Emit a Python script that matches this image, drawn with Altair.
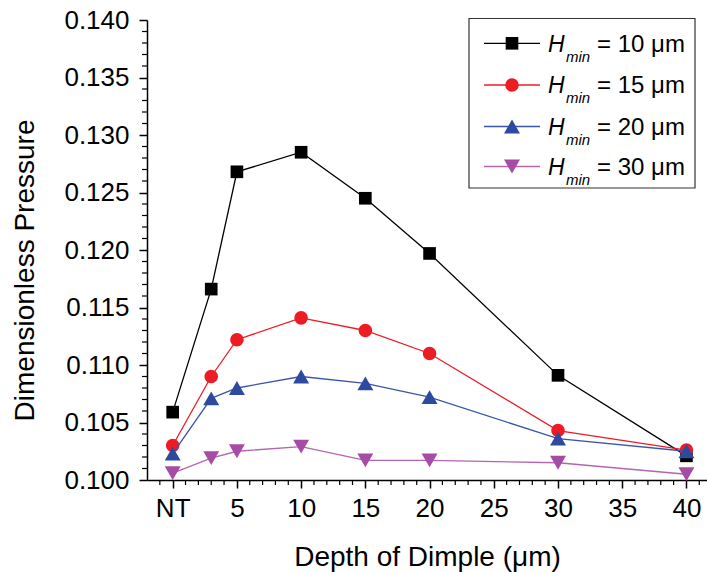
import altair as alt
import pandas as pd
import numpy as np

# ---- data ----
depth = [0, 3, 5, 10, 15, 20, 30, 40]           # 0 = "NT" (no texture)
series = ["10", "15", "20", "30"]               # H_min in um
p_h10 = [0.1059, 0.1166, 0.1268, 0.1285, 0.1245, 0.1197, 0.1091, 0.1021]
p_h15 = [0.1030, 0.1090, 0.1122, 0.1141, 0.1130, 0.1110, 0.1043, 0.1026]
p_h20 = [0.1023, 0.1071, 0.1080, 0.1090, 0.1084, 0.1072, 0.1036, 0.1025]
p_h30 = [0.1006, 0.1019, 0.1025, 0.1029, 0.1017, 0.1017, 0.1015, 0.1005]
x_tick_values = [0, 5, 10, 15, 20, 25, 30, 35, 40]
y_tick_values = [0.100, 0.105, 0.110, 0.115, 0.120, 0.125, 0.130, 0.135, 0.140]

colors = ["#000000", "#ED1C24", "#2E4A9E", "#A64CA6"]
line_colors = ["#000000", "#ED1C24", "#3A55A8", "#B564B0"]
shapes = ["square", "circle", "triangle-up", "triangle-down"]
sizes = [160, 185, 255, 255]

FONT = "Liberation Sans"

rows = []
for s, vals in zip(series, [p_h10, p_h15, p_h20, p_h30]):
    for d, v in zip(depth, vals):
        rows.append({"depth": d, "pressure": v, "series": s})
df = pd.DataFrame(rows)

x_scale = alt.Scale(domain=[-2, 41.6], nice=False, zero=False)
y_scale = alt.Scale(domain=[0.100, 0.140], nice=False, zero=False)

x_enc = alt.X(
    "depth:Q", scale=x_scale,
    axis=alt.Axis(
        values=x_tick_values,
        labelExpr="datum.value == 0 ? 'NT' : datum.label",
        title="Depth of Dimple (μm)",
        titleFont=FONT, titleFontSize=28, titleFontWeight="normal", titleColor="black",
        titleX=280, titleY=85, titleBaseline="alphabetic", titleAlign="center",
        labelFont=FONT, labelFontSize=26, labelColor="black", labelPadding=7,
        tickSize=8, tickWidth=1.5, tickColor="black",
        domainColor="black", domainWidth=1.5, grid=False, labelFlush=False,
    ),
)
y_enc = alt.Y(
    "pressure:Q", scale=y_scale,
    axis=alt.Axis(
        values=y_tick_values,
        format=".3f",
        title="Dimensionless Pressure",
        titleFont=FONT, titleFontSize=28, titleFontWeight="normal", titleColor="black",
        titleX=-114, titleY=250, titleAngle=270, titleBaseline="alphabetic", titleAlign="center",
        labelFont=FONT, labelFontSize=26, labelColor="black", labelPadding=10,
        tickSize=8, tickWidth=1.5, tickColor="black",
        domainColor="black", domainWidth=1.5, grid=False, labelFlush=False,
    ),
)

layers = []

# data series
for s, c, lc, sh, sz in zip(series, colors, line_colors, shapes, sizes):
    base = alt.Chart(df).transform_filter(alt.datum.series == s)
    layers.append(base.mark_line(color=lc, strokeWidth=1.3).encode(x=x_enc, y=y_enc))
    layers.append(
        base.mark_point(shape=sh, filled=True, color=c, size=sz, opacity=1).encode(x=x_enc, y=y_enc)
    )

# minor ticks (same encodings so the axes merge)
minor_x = pd.DataFrame({"depth": [v for v in range(-1, 42) if v % 5 != 0]})
layers.append(
    alt.Chart(minor_x).mark_rule(color="black", strokeWidth=1.2).encode(
        x=x_enc, y=alt.value(460), y2=alt.value(465),
    )
)
minor_y = pd.DataFrame({"pressure": [round(0.100 + i * 0.001, 3) for i in range(1, 40) if i % 5 != 0]})
layers.append(
    alt.Chart(minor_y).mark_rule(color="black", strokeWidth=1.2).encode(
        y=y_enc, x=alt.value(-5), x2=alt.value(0),
    )
)

# custom legend (H with italic subscript "min")
dummy = pd.DataFrame({"a": [0]})
layers.append(
    alt.Chart(dummy).mark_rect(fill="white", stroke="#333333", strokeWidth=1.2).encode(
        x=alt.value(322), x2=alt.value(548), y=alt.value(-1.5), y2=alt.value(168)
    )
)
row_y = [23.3, 65, 106.5, 146.5]
for s, c, lc, sh, sz, ry in zip(series, colors, line_colors, shapes, sizes, row_y):
    layers.append(
        alt.Chart(dummy).mark_rule(color=lc, strokeWidth=1.3).encode(
            x=alt.value(337), x2=alt.value(393), y=alt.value(ry)
        )
    )
    layers.append(
        alt.Chart(dummy).mark_point(shape=sh, filled=True, color=c, size=sz, opacity=1).encode(
            x=alt.value(365), y=alt.value(ry)
        )
    )
    layers.append(
        alt.Chart(dummy).mark_text(
            text="H", font=FONT, fontSize=23, fontStyle="italic", align="left",
            baseline="alphabetic", color="black",
        ).encode(x=alt.value(401), y=alt.value(ry + 8.4))
    )
    layers.append(
        alt.Chart(dummy).mark_text(
            text="min", font=FONT, fontSize=15, fontStyle="italic", align="left",
            baseline="alphabetic", color="black",
        ).encode(x=alt.value(419), y=alt.value(ry + 18.4))
    )
    layers.append(
        alt.Chart(dummy).mark_text(
            text=f"= {s} μm", font=FONT, fontSize=24, align="left",
            baseline="alphabetic", color="black",
        ).encode(x=alt.value(450), y=alt.value(ry + 8.4))
    )

chart = (
    alt.layer(*layers)
    .properties(
        width=560, height=460,
        autosize=alt.AutoSizeParams(type="none"),
        padding={"left": 147, "top": 20, "right": 0, "bottom": 92},
        background="white",
    )
    .configure_view(stroke="transparent")
)

chart.save("out.html", embed_options={"renderer": "svg", "actions": False})
